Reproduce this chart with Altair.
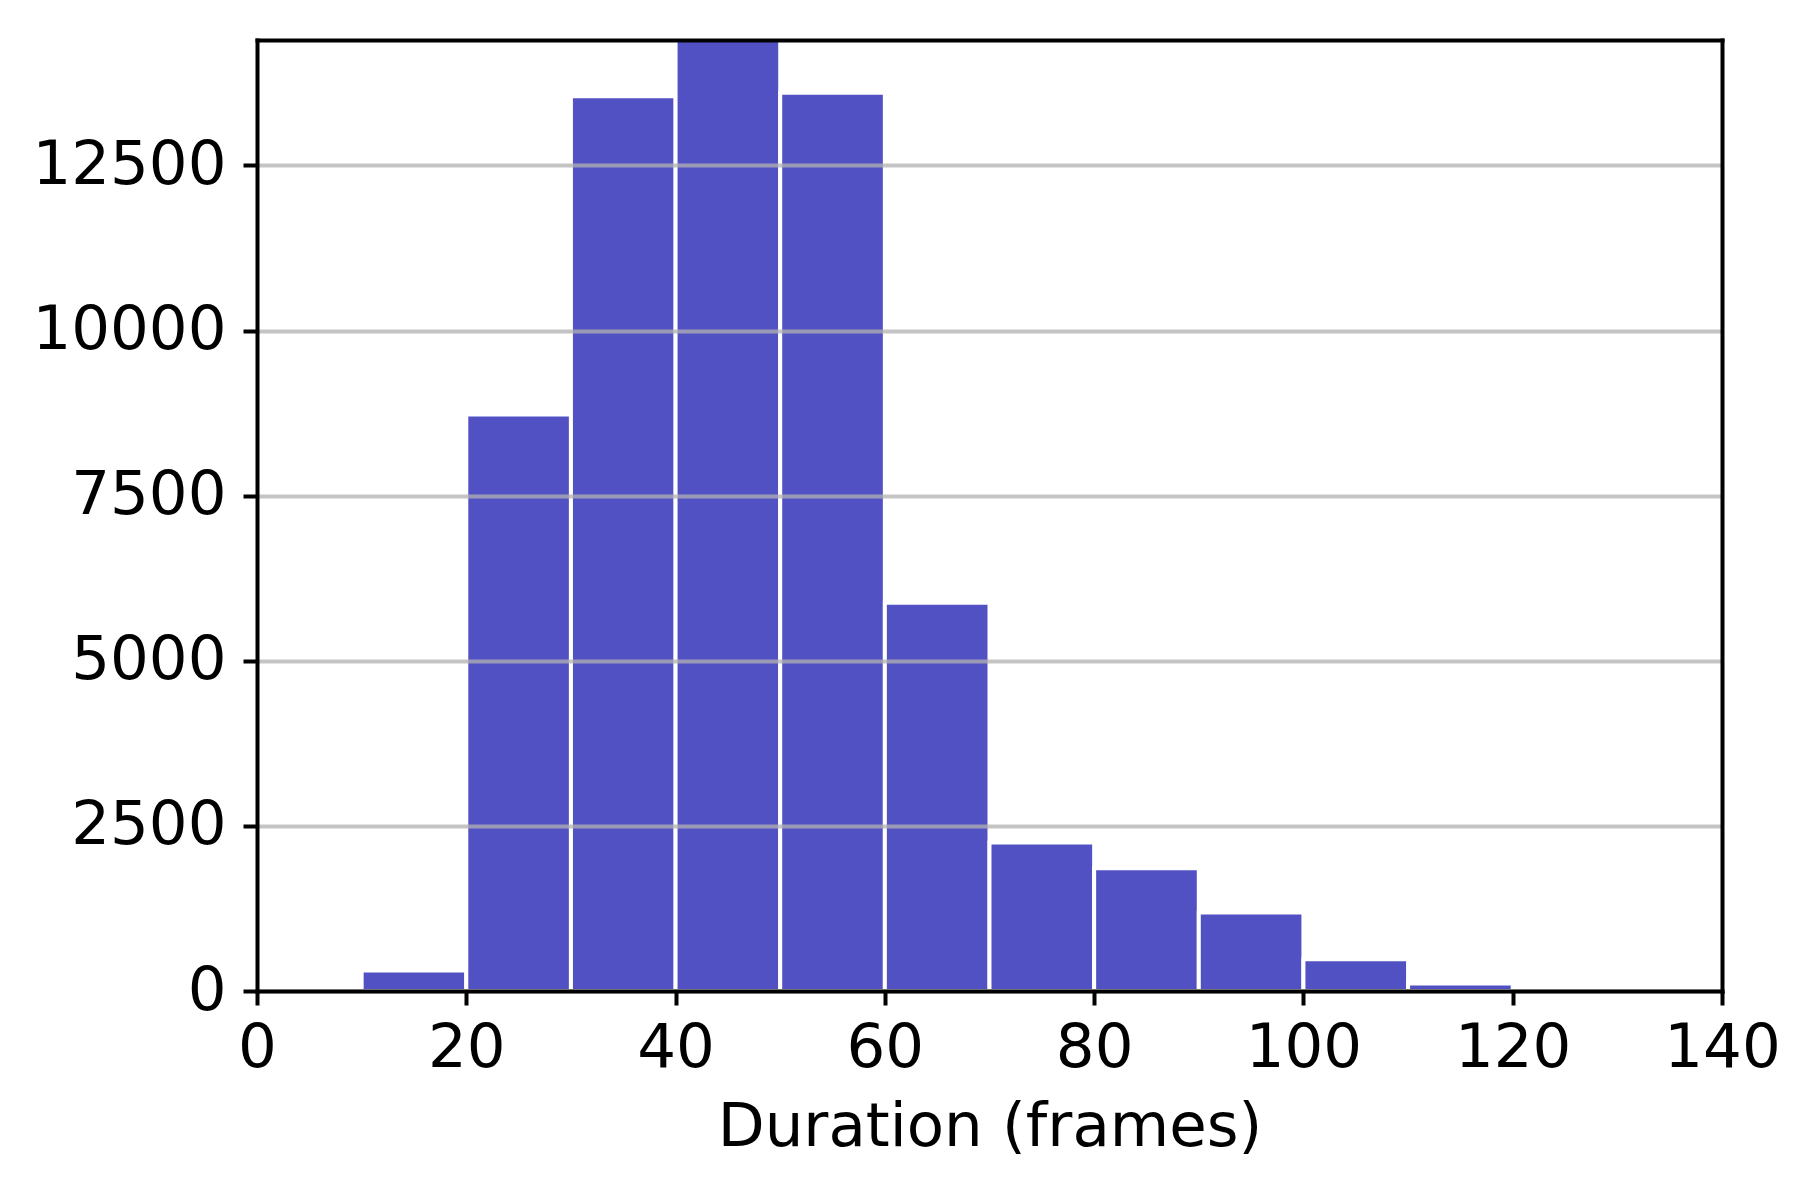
import altair as alt
import pandas as pd

# Histogram bins (frames) and counts
bin_start = [10, 20, 30, 40, 50, 60, 70, 80, 90, 100, 110]
bin_end = [20, 30, 40, 50, 60, 70, 80, 90, 100, 110, 120]
counts = [310, 8730, 13550, 14400, 13600, 5880, 2250, 1860, 1190, 480, 115]

x_ticks = [0, 20, 40, 60, 80, 100, 120, 140]
y_ticks = [0, 2500, 5000, 7500, 10000, 12500]
x_title = "Duration (frames)"

df = pd.DataFrame({"start": bin_start, "end": bin_end, "count": counts})

FONT = "DejaVu Sans"
FS = 61

xscale = alt.Scale(domain=[0, 140], nice=False, zero=False)
yscale = alt.Scale(domain=[0, 14400], nice=False)

bars = alt.Chart(df).mark_rect(color="#5151c4", stroke="white", strokeWidth=4).encode(
    x=alt.X(
        "start:Q",
        scale=xscale,
        axis=alt.Axis(
            values=x_ticks, orient="bottom", title=x_title, grid=False, zindex=2,
            labelFontSize=FS, labelFont=FONT, labelColor="black", labelPadding=13,
            labelLimit=0, format="d",
            titleFontSize=FS, titleFont=FONT, titleFontWeight="normal", titleColor="black",
            titlePadding=19, tickSize=14, tickWidth=4, tickColor="black",
            domainColor="black", domainWidth=4, domainCap="square", labelFlush=False,
        ),
    ),
    x2="end:Q",
    y=alt.Y(
        "count:Q",
        scale=yscale,
        axis=alt.Axis(
            values=y_ticks, orient="left", title=None, grid=True, zindex=1,
            gridColor="#b2b2b2", gridOpacity=0.76, gridWidth=4,
            labelFontSize=FS, labelFont=FONT, labelColor="black", labelPadding=17,
            labelLimit=0, format="d",
            tickSize=14, tickWidth=4, tickColor="black",
            domainColor="black", domainWidth=4, domainCap="square", labelFlush=False,
        ),
    ),
    y2=alt.datum(0),
)

frame = alt.Chart(df).mark_rect(opacity=0).encode(
    x=alt.X(
        "start:Q",
        scale=xscale,
        axis=alt.Axis(orient="top", title=None, labels=False, ticks=False, grid=False,
                      domainColor="black", domainWidth=4, domainCap="square", zindex=2),
    ),
    x2="end:Q",
    y=alt.Y(
        "count:Q",
        scale=yscale,
        axis=alt.Axis(orient="right", title=None, labels=False, ticks=False, grid=False,
                      domainColor="black", domainWidth=4, domainCap="square", zindex=2),
    ),
    y2=alt.datum(0),
)

chart = (
    alt.layer(bars, frame)
    .resolve_axis(x="independent", y="independent")
    .properties(
        width=1465,
        height=951,
        autosize=alt.AutoSizeParams(type="none"),
        padding={"left": 249, "top": 32, "right": 80, "bottom": 180},
        background="white",
    )
    .configure_view(stroke=None)
)

chart.save("out.html", embed_options={"renderer": "svg", "actions": False})
